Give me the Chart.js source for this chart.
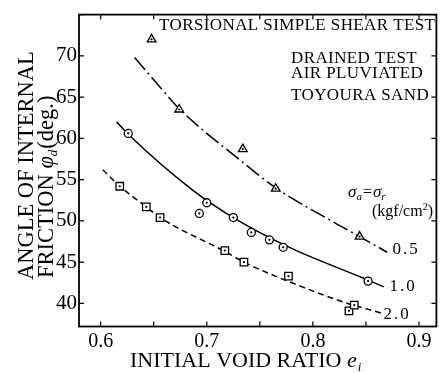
<!DOCTYPE html>
<html><head><meta charset="utf-8">
<script src="https://cdn.jsdelivr.net/npm/chart.js@4.4.0/dist/chart.umd.min.js"></script>
<style>html,body{margin:0;padding:0;background:#fff;}#wrap{width:443px;height:373px;position:relative;}</style>
</head><body><div id="wrap"><canvas id="c" width="443" height="373"></canvas></div>
<script>
// ---- data ----
const xLabelValues = [0.6, 0.7, 0.8, 0.9];
const yLabelValues = [40, 45, 50, 55, 60, 65, 70];
const seriesNames = ['0.5', '1.0', '2.0'];
// measured points (sigma_a = sigma_r = 0.5, 1.0, 2.0 kgf/cm2)
const triX = [0.648, 0.674, 0.734, 0.765, 0.844];
const triY = [72.0, 63.5, 58.7, 53.9, 48.1];
const cirX = [0.626, 0.693, 0.700, 0.725, 0.742, 0.759, 0.772, 0.852];
const cirY = [60.6, 50.9, 52.2, 50.4, 48.6, 47.7, 46.8, 42.7];
const sqX = [0.618, 0.643, 0.656, 0.717, 0.735, 0.777, 0.834, 0.839];
const sqY = [54.2, 51.7, 50.4, 46.4, 45.0, 43.3, 39.1, 39.8];
// fitted curves
const curve05X = [0.632, 0.656, 0.674, 0.734, 0.765, 0.816, 0.844, 0.870];
const curve05Y = [69.8, 66.2, 63.6, 57.1, 54.0, 50.1, 48.1, 46.2];
const curve10X = [0.615, 0.626, 0.687, 0.725, 0.781, 0.845, 0.867];
const curve10Y = [62.0, 60.5, 53.7, 50.4, 46.6, 43.2, 42.0];
const curve20X = [0.602, 0.618, 0.643, 0.656, 0.717, 0.735, 0.790, 0.828, 0.865];
const curve20Y = [56.2, 54.2, 51.7, 50.4, 46.3, 45.0, 42.0, 40.2, 38.8];

const pts = (xs, ys) => xs.map((x, i) => ({x: x, y: ys[i]}));
const SERIF = "'Liberation Serif', 'DejaVu Serif', serif";

function markerSet(label, xs, ys, style, r) {
  return {label: label, data: pts(xs, ys), showLine: false, pointStyle: style,
    pointRadius: r, pointBorderColor: '#000', pointBackgroundColor: '#fff',
    pointBorderWidth: 1.3, centerDot: true};
}
function curveSet(label, xs, ys, dash) {
  return {label: label, data: pts(xs, ys), showLine: true, pointRadius: 0,
    borderColor: '#000', borderWidth: 1.5, borderDash: dash,
    cubicInterpolationMode: 'monotone', fill: false};
}

function rich(ctx, parts, x, y) {
  let cx = x;
  parts.forEach(p => {
    ctx.font = p[1];
    ctx.fillText(p[0], cx, y + (p[2] || 0));
    cx += ctx.measureText(p[0]).width + (p[3] || 0);
  });
}

const deco = {
  id: 'deco',
  afterDatasetsDraw(chart) {
    const ctx = chart.ctx;
    ctx.save();
    ctx.fillStyle = '#000';
    chart.data.datasets.forEach((ds, i) => {
      if (!ds.centerDot) return;
      chart.getDatasetMeta(i).data.forEach(p => {
        ctx.beginPath(); ctx.arc(p.x, p.y, 1.1, 0, Math.PI * 2); ctx.fill();
      });
    });
    ctx.restore();
  },
  afterDraw(chart) {
    const ctx = chart.ctx, a = chart.chartArea;
    const xs = chart.scales.x, ys = chart.scales.y;
    ctx.save();
    ctx.strokeStyle = '#000';
    ctx.lineWidth = 1.8;
    ctx.strokeRect(a.left, a.top, a.right - a.left, a.bottom - a.top);
    ctx.lineWidth = 1.2;
    ctx.beginPath();
    xs.ticks.forEach(t => {
      const px = xs.getPixelForValue(t.value);
      ctx.moveTo(px, a.bottom); ctx.lineTo(px, a.bottom - 5);
      ctx.moveTo(px, a.top); ctx.lineTo(px, a.top + 5);
    });
    ys.ticks.forEach(t => {
      const py = ys.getPixelForValue(t.value);
      ctx.moveTo(a.left, py); ctx.lineTo(a.left + 5, py);
      ctx.moveTo(a.right, py); ctx.lineTo(a.right - 5, py);
    });
    ctx.stroke();

    ctx.fillStyle = '#000';
    ctx.textBaseline = 'alphabetic';
    ctx.textAlign = 'left';
    try { ctx.letterSpacing = '0.4px'; } catch (e) {}
    ctx.font = '17px ' + SERIF;
    ctx.fillText('TORSIONAL SIMPLE SHEAR TEST', 159, 29.5);
    ctx.fillText('DRAINED TEST', 291, 63);
    ctx.fillText('AIR PLUVIATED', 291, 78);
    ctx.fillText('TOYOURA SAND', 291, 100);

    try { ctx.letterSpacing = '0px'; } catch (e) {}
    rich(ctx, [['σ', 'italic 17px ' + SERIF, 0], ['a', 'italic 11px ' + SERIF, 3, 1],
               ['=', '16px ' + SERIF, 0, 1], ['σ', 'italic 17px ' + SERIF, 0], ['r', 'italic 11px ' + SERIF, 3]], 348, 197);
    rich(ctx, [['(kgf/cm', '16px ' + SERIF, 0], ['2', '10px ' + SERIF, -6], [')', '16px ' + SERIF, 0]], 372, 216);

    try { ctx.letterSpacing = '2px'; } catch (e) {}
    ctx.font = '17px ' + SERIF;
    ctx.textAlign = 'center';
    ctx.textBaseline = 'middle';
    ctx.fillText(seriesNames[0], 406, 250);
    ctx.fillText(seriesNames[1], 403, 287);
    ctx.fillText(seriesNames[2], 397, 315);
    try { ctx.letterSpacing = '0px'; } catch (e) {}

    ctx.textAlign = 'left';
    ctx.textBaseline = 'alphabetic';
    rich(ctx, [['INITIAL VOID RATIO ', '22px ' + SERIF, 0], ['e', 'italic 22px ' + SERIF, 0, 1], ['i', 'italic 13px ' + SERIF, 4]], 130, 366.5);

    ctx.save();
    ctx.translate(33, 280); ctx.rotate(-Math.PI / 2);
    ctx.font = '22.5px ' + SERIF;
    ctx.fillText('ANGLE OF INTERNAL', 0, 0);
    ctx.restore();
    ctx.save();
    ctx.translate(53, 278); ctx.rotate(-Math.PI / 2);
    rich(ctx, [['FRICTION ', '22.5px ' + SERIF, 0], ['φ', 'italic 22.5px ' + SERIF, 0], ['d', 'italic 13px ' + SERIF, 4, 1], ['(deg.)', '22.5px ' + SERIF, 0]], 0, 0);
    ctx.restore();
    ctx.restore();
  }
};

new Chart(document.getElementById('c'), {
  type: 'scatter',
  data: {
    datasets: [
      markerSet(seriesNames[0] + ' points', triX, triY, 'triangle', 5),
      markerSet(seriesNames[1] + ' points', cirX, cirY, 'circle', 4),
      markerSet(seriesNames[2] + ' points', sqX, sqY, 'rect', 5.3),
      curveSet(seriesNames[0], curve05X, curve05Y, [16, 4, 2, 4]),
      curveSet(seriesNames[1], curve10X, curve10Y, []),
      curveSet(seriesNames[2], curve20X, curve20Y, [6, 4])
    ]
  },
  options: {
    responsive: false, animation: false, devicePixelRatio: 1,
    layout: {padding: {top: 5, right: 6, left: 0, bottom: 0}},
    plugins: {legend: {display: false}, tooltip: {enabled: false}},
    scales: {
      x: {
        type: 'linear', min: 0.5796, max: 0.9164,
        grid: {display: false, drawTicks: false}, border: {display: false},
        afterFit: s => { s.height = 46.5; },
        ticks: {
          stepSize: 0.05, includeBounds: false, autoSkip: false, maxRotation: 0, padding: 3,
          color: '#000', font: {family: SERIF, size: 20},
          callback: v => {
            const hit = xLabelValues.find(t => Math.abs(t - v) < 1e-6);
            return hit === undefined ? '' : hit.toFixed(1);
          }
        }
      },
      y: {
        type: 'linear', min: 37.2, max: 75.0,
        grid: {display: false, drawTicks: false}, border: {display: false},
        afterFit: s => { s.width = 79; },
        ticks: {
          stepSize: 5, includeBounds: false, padding: 2,
          color: '#000', font: {family: SERIF, size: 21},
          callback: v => yLabelValues.includes(Math.round(v)) ? String(Math.round(v)) : ''
        }
      }
    }
  },
  plugins: [deco]
});
</script></body></html>
